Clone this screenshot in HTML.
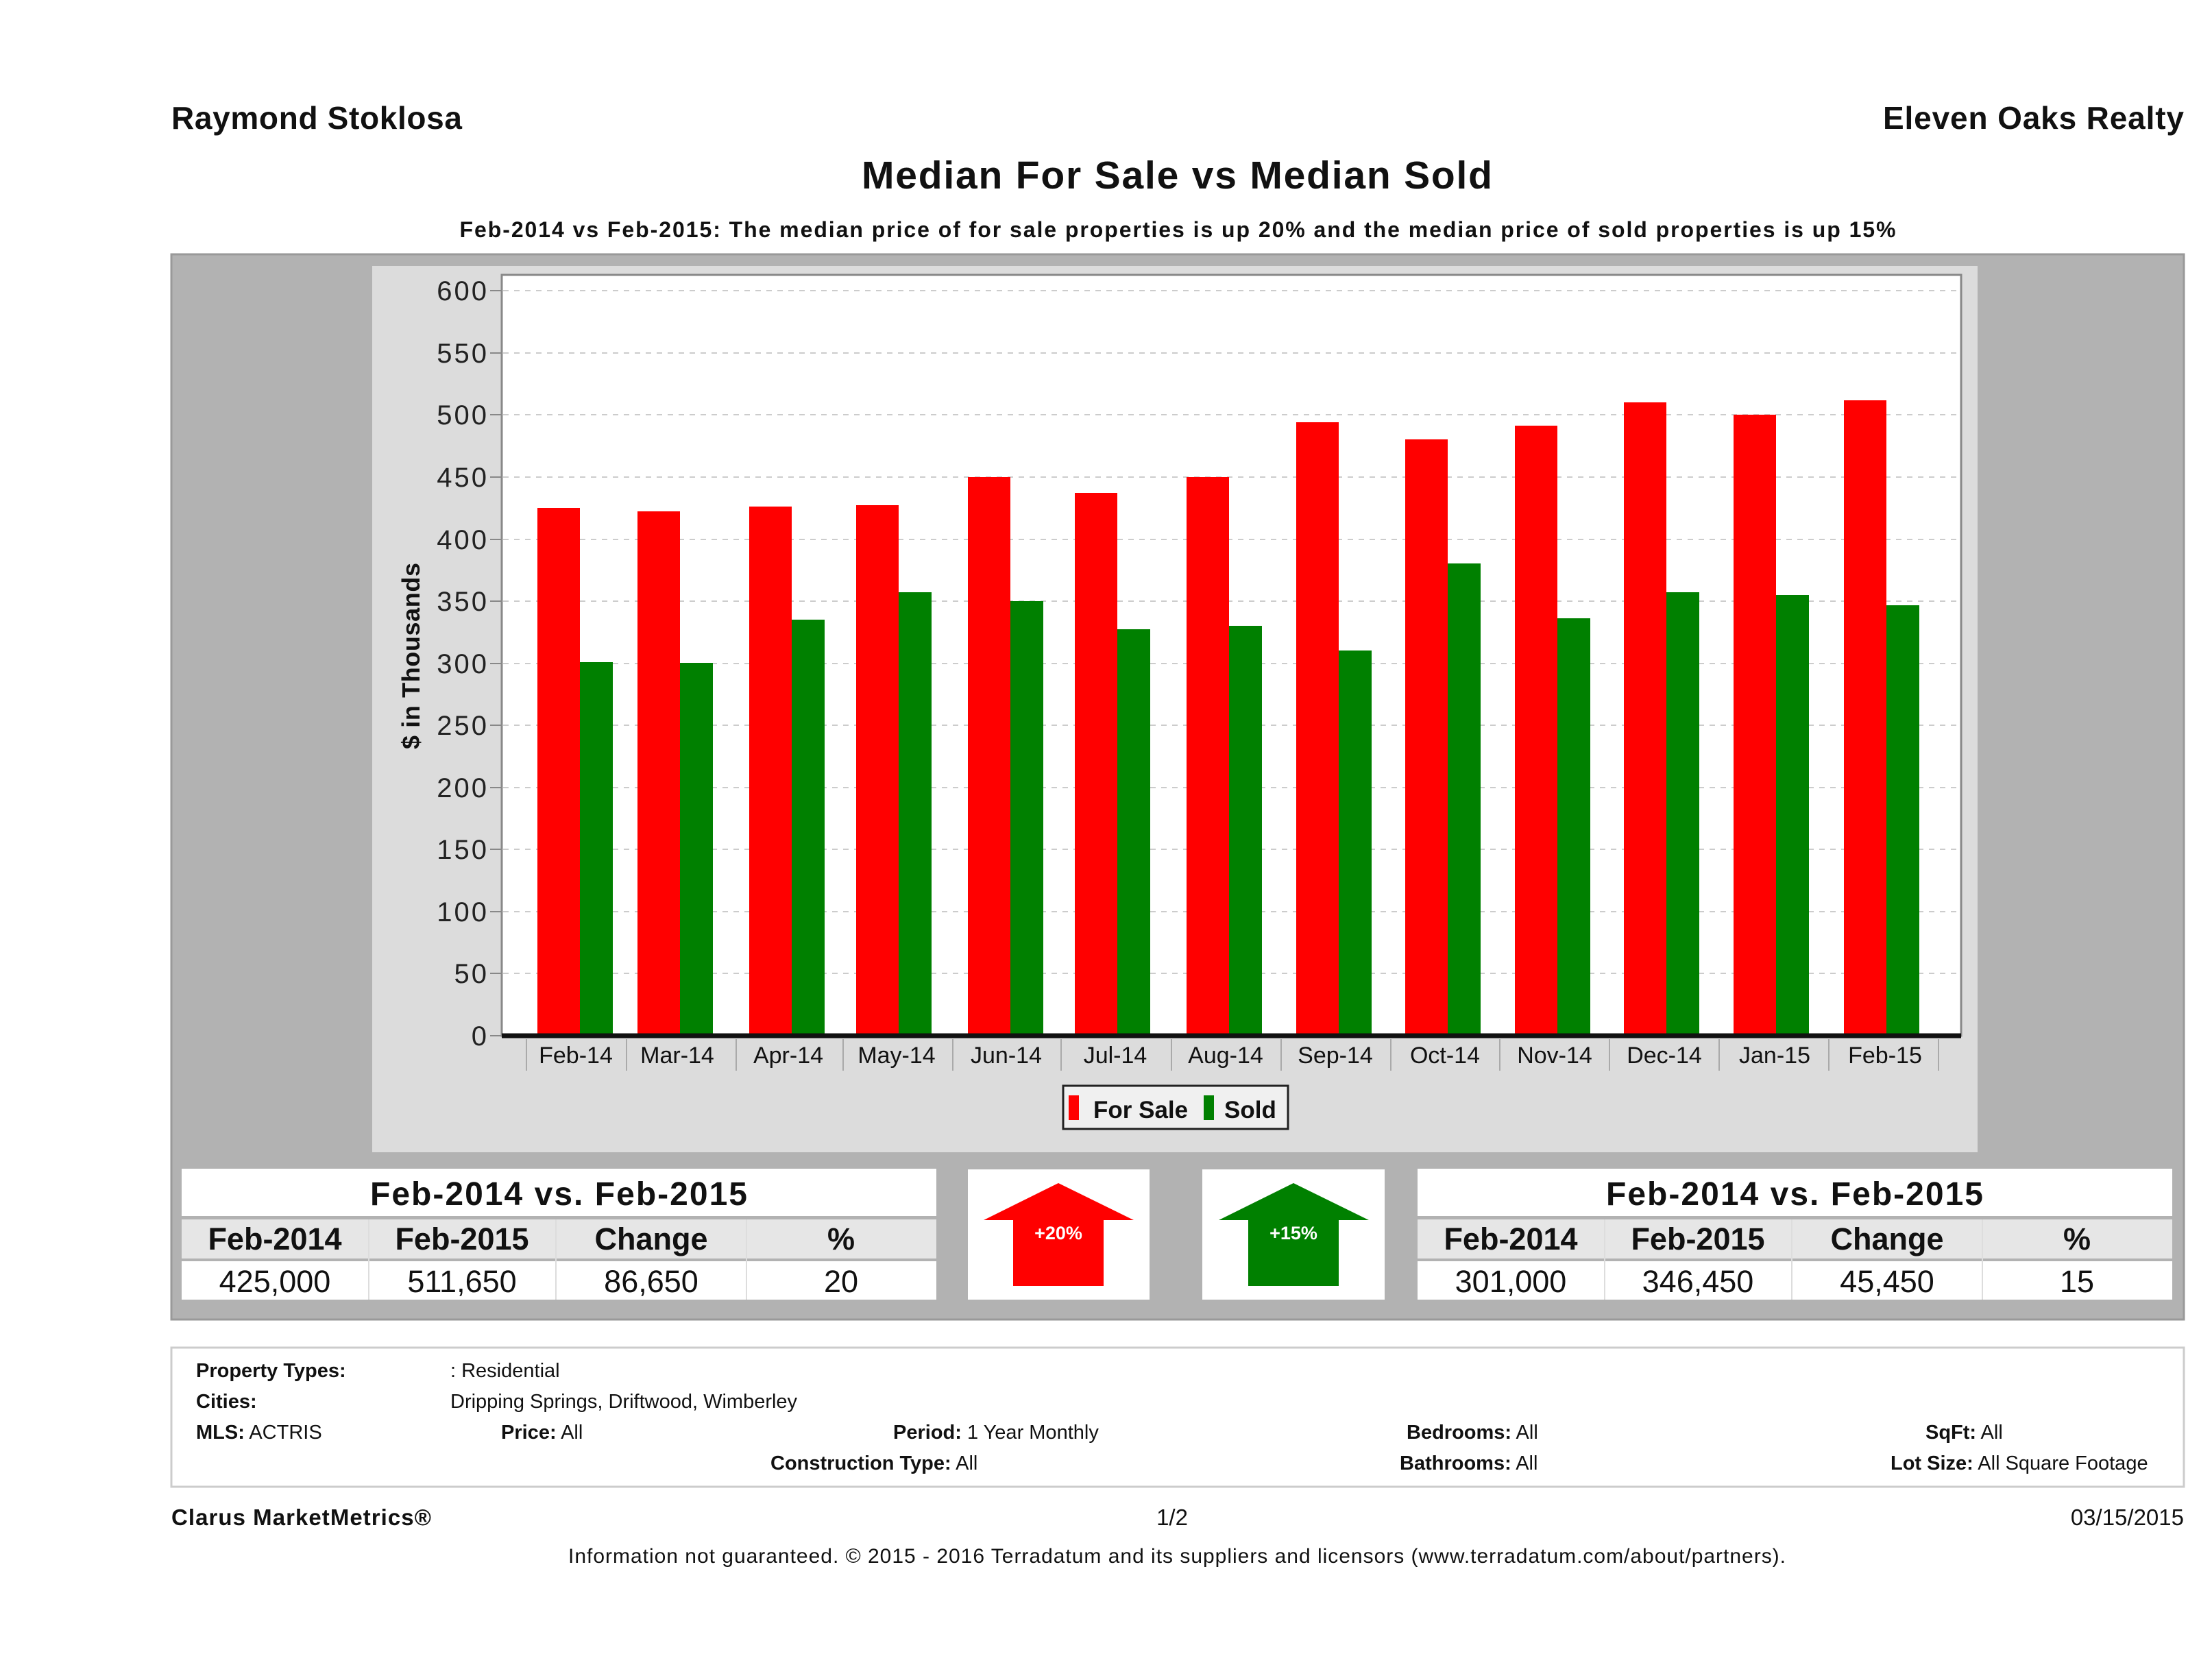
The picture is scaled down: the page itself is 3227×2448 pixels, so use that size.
<!DOCTYPE html>
<html><head><meta charset="utf-8"><style>
html,body{margin:0;padding:0;background:#fff;}
svg{display:block;}
text{font-family:"Liberation Sans",sans-serif;}
</style></head><body>
<svg width="3227" height="2448" viewBox="0 0 3227 2448" xmlns="http://www.w3.org/2000/svg">
<rect width="3227" height="2448" fill="#fff"/>
<text x="250" y="188" font-size="46" font-weight="bold" fill="#111" textLength="424">Raymond Stoklosa</text>
<text x="2747" y="188" font-size="46" font-weight="bold" fill="#111" textLength="439">Eleven Oaks Realty</text>
<text x="1717" y="275" font-size="57" font-weight="bold" fill="#111" text-anchor="middle" textLength="920">Median For Sale vs Median Sold</text>
<text x="1718" y="346" font-size="32" font-weight="bold" fill="#111" text-anchor="middle" textLength="2095">Feb-2014 vs Feb-2015: The median price of for sale properties is up 20% and the median price of sold properties is up 15%</text>

<rect x="250" y="371" width="2936" height="1554" fill="#b2b2b2" stroke="#999" stroke-width="3"/>
<rect x="543" y="388" width="2342" height="1293" fill="#dcdcdc"/>
<rect x="732" y="401" width="2129" height="1110" fill="#fff" stroke="#888" stroke-width="3"/>
<g stroke="#ccc" stroke-width="2" stroke-dasharray="8,8">
<line x1="734" x2="2859" y1="424" y2="424"/><line x1="734" x2="2859" y1="515" y2="515"/>
<line x1="734" x2="2859" y1="605" y2="605"/><line x1="734" x2="2859" y1="696" y2="696"/>
<line x1="734" x2="2859" y1="787" y2="787"/><line x1="734" x2="2859" y1="877" y2="877"/>
<line x1="734" x2="2859" y1="968" y2="968"/><line x1="734" x2="2859" y1="1058" y2="1058"/>
<line x1="734" x2="2859" y1="1149" y2="1149"/><line x1="734" x2="2859" y1="1239" y2="1239"/>
<line x1="734" x2="2859" y1="1330" y2="1330"/><line x1="734" x2="2859" y1="1420" y2="1420"/>
</g>
<g stroke="#888" stroke-width="2">
<line x1="715" x2="731" y1="424" y2="424"/><line x1="715" x2="731" y1="515" y2="515"/>
<line x1="715" x2="731" y1="605" y2="605"/><line x1="715" x2="731" y1="696" y2="696"/>
<line x1="715" x2="731" y1="787" y2="787"/><line x1="715" x2="731" y1="877" y2="877"/>
<line x1="715" x2="731" y1="968" y2="968"/><line x1="715" x2="731" y1="1058" y2="1058"/>
<line x1="715" x2="731" y1="1149" y2="1149"/><line x1="715" x2="731" y1="1239" y2="1239"/>
<line x1="715" x2="731" y1="1330" y2="1330"/><line x1="715" x2="731" y1="1420" y2="1420"/>
<line x1="715" x2="731" y1="1511" y2="1511"/>
</g>
<g font-size="40" fill="#222" text-anchor="end" letter-spacing="3">
<text x="713" y="438">600</text><text x="713" y="529">550</text><text x="713" y="619">500</text>
<text x="713" y="710">450</text><text x="713" y="801">400</text><text x="713" y="891">350</text>
<text x="713" y="982">300</text><text x="713" y="1072">250</text><text x="713" y="1163">200</text>
<text x="713" y="1253">150</text><text x="713" y="1344">100</text><text x="713" y="1434">50</text>
<text x="713" y="1525">0</text>
</g>
<text transform="translate(612,957) rotate(-90)" font-size="36" font-weight="bold" fill="#111" text-anchor="middle" textLength="272">$ in Thousands</text>

<g fill="#ff0000">
<rect x="784" y="741" width="62" height="770"/><rect x="930" y="746" width="62" height="765"/>
<rect x="1093" y="739" width="62" height="772"/><rect x="1249" y="737" width="62" height="774"/>
<rect x="1412" y="696" width="62" height="815"/><rect x="1568" y="719" width="62" height="792"/>
<rect x="1731" y="696" width="62" height="815"/><rect x="1891" y="616" width="62" height="895"/>
<rect x="2050" y="641" width="62" height="870"/><rect x="2210" y="621" width="62" height="890"/>
<rect x="2369" y="587" width="62" height="924"/><rect x="2529" y="605" width="62" height="906"/>
<rect x="2690" y="584" width="62" height="927"/>
</g>
<g fill="#008000">
<rect x="846" y="966" width="48" height="545"/><rect x="992" y="967" width="48" height="544"/>
<rect x="1155" y="904" width="48" height="607"/><rect x="1311" y="864" width="48" height="647"/>
<rect x="1474" y="877" width="48" height="634"/><rect x="1630" y="918" width="48" height="593"/>
<rect x="1793" y="913" width="48" height="598"/><rect x="1953" y="949" width="48" height="562"/>
<rect x="2112" y="822" width="48" height="689"/><rect x="2272" y="902" width="48" height="609"/>
<rect x="2431" y="864" width="48" height="647"/><rect x="2591" y="868" width="48" height="643"/>
<rect x="2752" y="883" width="48" height="628"/>
</g>
<line x1="732" x2="2861" y1="1511" y2="1511" stroke="#111" stroke-width="7"/>
<g stroke="#aaa" stroke-width="2">
<line x1="768" x2="768" y1="1516" y2="1562"/><line x1="914" x2="914" y1="1516" y2="1562"/>
<line x1="1074" x2="1074" y1="1516" y2="1562"/><line x1="1230" x2="1230" y1="1516" y2="1562"/>
<line x1="1390" x2="1390" y1="1516" y2="1562"/><line x1="1548" x2="1548" y1="1516" y2="1562"/>
<line x1="1709" x2="1709" y1="1516" y2="1562"/><line x1="1869" x2="1869" y1="1516" y2="1562"/>
<line x1="2029" x2="2029" y1="1516" y2="1562"/><line x1="2188" x2="2188" y1="1516" y2="1562"/>
<line x1="2348" x2="2348" y1="1516" y2="1562"/><line x1="2508" x2="2508" y1="1516" y2="1562"/>
<line x1="2668" x2="2668" y1="1516" y2="1562"/><line x1="2828" x2="2828" y1="1516" y2="1562"/>
</g>
<g font-size="34" fill="#111" text-anchor="middle">
<text x="840" y="1551">Feb-14</text><text x="988" y="1551">Mar-14</text><text x="1150" y="1551">Apr-14</text>
<text x="1308" y="1551">May-14</text><text x="1468" y="1551">Jun-14</text><text x="1627" y="1551">Jul-14</text>
<text x="1788" y="1551">Aug-14</text><text x="1948" y="1551">Sep-14</text><text x="2108" y="1551">Oct-14</text>
<text x="2268" y="1551">Nov-14</text><text x="2428" y="1551">Dec-14</text><text x="2589" y="1551">Jan-15</text>
<text x="2750" y="1551">Feb-15</text>
</g>
<rect x="1551" y="1584" width="328" height="63" fill="#f0f0f0" stroke="#222" stroke-width="3"/>
<rect x="1559" y="1598" width="15" height="36" fill="#f00"/>
<text x="1595" y="1631" font-size="35" font-weight="bold" fill="#111">For Sale</text>
<rect x="1756" y="1598" width="15" height="36" fill="#008000"/>
<text x="1786" y="1631" font-size="35" font-weight="bold" fill="#111">Sold</text>

<!-- left table -->
<rect x="265" y="1705" width="1101" height="69" fill="#fff"/>
<rect x="265" y="1779" width="1101" height="57" fill="#e6e6e6"/>
<rect x="265" y="1840" width="1101" height="56" fill="#fff"/>
<g stroke="#ddd" stroke-width="2"><line x1="538" x2="538" y1="1779" y2="1896"/><line x1="811" x2="811" y1="1779" y2="1896"/><line x1="1089" x2="1089" y1="1779" y2="1896"/></g>
<text x="815" y="1758" font-size="48" font-weight="bold" fill="#111" text-anchor="middle" textLength="550">Feb-2014 vs. Feb-2015</text>
<g font-size="45" font-weight="bold" fill="#111" text-anchor="middle">
<text x="401" y="1823">Feb-2014</text><text x="674" y="1823">Feb-2015</text><text x="950" y="1823">Change</text><text x="1227" y="1823">%</text></g>
<g font-size="45" fill="#111" text-anchor="middle">
<text x="401" y="1885">425,000</text><text x="674" y="1885">511,650</text><text x="950" y="1885">86,650</text><text x="1227" y="1885">20</text></g>

<!-- right table -->
<rect x="2068" y="1705" width="1101" height="69" fill="#fff"/>
<rect x="2068" y="1779" width="1101" height="57" fill="#e6e6e6"/>
<rect x="2068" y="1840" width="1101" height="56" fill="#fff"/>
<g stroke="#ddd" stroke-width="2"><line x1="2341" x2="2341" y1="1779" y2="1896"/><line x1="2614" x2="2614" y1="1779" y2="1896"/><line x1="2892" x2="2892" y1="1779" y2="1896"/></g>
<text x="2618" y="1758" font-size="48" font-weight="bold" fill="#111" text-anchor="middle" textLength="550">Feb-2014 vs. Feb-2015</text>
<g font-size="45" font-weight="bold" fill="#111" text-anchor="middle">
<text x="2204" y="1823">Feb-2014</text><text x="2477" y="1823">Feb-2015</text><text x="2753" y="1823">Change</text><text x="3030" y="1823">%</text></g>
<g font-size="45" fill="#111" text-anchor="middle">
<text x="2204" y="1885">301,000</text><text x="2477" y="1885">346,450</text><text x="2753" y="1885">45,450</text><text x="3030" y="1885">15</text></g>

<!-- arrows -->
<rect x="1412" y="1706" width="265" height="190" fill="#fff"/>
<polygon points="1544,1726 1654,1780 1610,1780 1610,1876 1478,1876 1478,1780 1435,1780" fill="#f00"/>
<text x="1544" y="1808" font-size="27" font-weight="bold" fill="#fff" text-anchor="middle">+20%</text>
<rect x="1754" y="1706" width="266" height="190" fill="#fff"/>
<polygon points="1887,1726 1997,1780 1953,1780 1953,1876 1821,1876 1821,1780 1778,1780" fill="#008000"/>
<text x="1887" y="1808" font-size="27" font-weight="bold" fill="#fff" text-anchor="middle">+15%</text>

<!-- info box -->
<rect x="250" y="1966" width="2936" height="203" fill="#fff" stroke="#ccc" stroke-width="3"/>
<g font-size="29" fill="#111">
<text x="286" y="2009" font-weight="bold">Property Types:</text><text x="657" y="2009">: Residential</text>
<text x="286" y="2054" font-weight="bold">Cities:</text><text x="657" y="2054">Dripping Springs, Driftwood, Wimberley</text>
<text x="286" y="2099"><tspan font-weight="bold">MLS:</tspan>   ACTRIS</text>
<text x="731" y="2099"><tspan font-weight="bold">Price:</tspan> All</text>
<text x="1303" y="2099"><tspan font-weight="bold">Period:</tspan> 1 Year Monthly</text>
<text x="2052" y="2099"><tspan font-weight="bold">Bedrooms:</tspan> All</text>
<text x="2809" y="2099"><tspan font-weight="bold">SqFt:</tspan> All</text>
<text x="1124" y="2144"><tspan font-weight="bold">Construction Type:</tspan> All</text>
<text x="2042" y="2144"><tspan font-weight="bold">Bathrooms:</tspan> All</text>
<text x="2758" y="2144"><tspan font-weight="bold">Lot Size:</tspan> All Square Footage</text>
</g>
<text x="250" y="2225" font-size="33" font-weight="bold" fill="#111" textLength="379">Clarus MarketMetrics®</text>
<text x="1710" y="2225" font-size="33" fill="#111" text-anchor="middle">1/2</text>
<text x="3186" y="2225" font-size="33" fill="#111" text-anchor="end">03/15/2015</text>
<text x="1717" y="2280" font-size="30" fill="#111" text-anchor="middle" textLength="1776">Information not guaranteed. © 2015 - 2016 Terradatum and its suppliers and licensors (www.terradatum.com/about/partners).</text>
</svg>
</body></html>
